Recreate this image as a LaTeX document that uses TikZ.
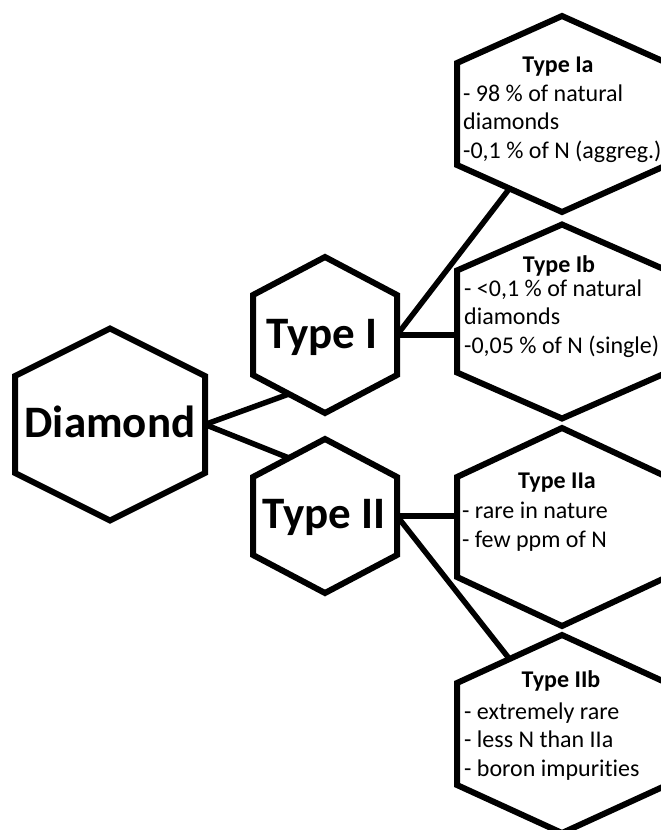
\documentclass[tikz,border=0pt]{standalone}
\usepackage{fontspec}
\setmainfont{Carlito}[Ligatures=NoCommon]
\usepackage{tikz}
\usetikzlibrary{positioning,backgrounds}

\tikzset{
  hexline/.style={line width=6pt, fill=white},
  link/.style={line width=5.5pt, shorten <=-3pt, shorten >=-3pt},
  bigtxt/.style={font=\fontsize{45}{54}\selectfont\bfseries, inner sep=0pt, anchor=base},
  headtxt/.style={font=\fontsize{24}{29}\selectfont\bfseries, inner sep=0pt, anchor=base},
  bodytxt/.style={font=\fontsize{24}{28.5}\selectfont, align=left, inner sep=0pt, anchor=base west},
  % hexagon: half width, corner offset, tip offset
  pics/hexa/.style n args={3}{code={
    \draw[hexline] (0,-#3) -- (#1,-#2) -- (#1,#2) -- (0,#3) -- (-#1,#2) -- (-#1,-#2) -- cycle;
    \coordinate (-e) at (#1,0);
    \coordinate (-w) at (-#1,0);
    \coordinate (-ul) at ({-#1/2},{-(#2+#3)/2});
    \coordinate (-ll) at ({-#1/2},{(#2+#3)/2});
  }}
}

\begin{document}
\begin{tikzpicture}[x=1pt, y=-1pt]
\useasboundingbox (0,0) rectangle (661,830);
\clip (0,0) rectangle (661,830);

% hexagons
\pic (dia) at (110,424.5) {hexa={95}{48.5}{96}};
\pic (t1) at (325,335) {hexa={72}{40}{78}};
\pic (t2) at (325,516) {hexa={72}{39}{77}};
\pic (ia) at (562,114) {hexa={105}{51}{98}};
\pic (ib) at (562,321.5) {hexa={105}{51}{97}};
\pic (iia) at (562,527) {hexa={105}{50}{99}};
\pic (iib) at (562,734) {hexa={105}{51}{99}};

% connectors, behind the hexagons
\begin{scope}[on background layer]
\draw[link] (dia-e) -- (t1-ll);
\draw[link] (dia-e) -- (t2-ul);
\draw[link] (t1-e) -- (ia-ll);
\draw[link] (t1-e) -- (t1-e -| ib-w);
\draw[link] (t2-e) -- (t2-e -| iia-w);
\draw[link] (t2-e) -- (iib-ul);
\end{scope}

% main labels
\node[bigtxt] (diaLbl) at (110,437) {Diamond};
\node[bigtxt] (t1Lbl) at (322,348) {Type I};
\node[bigtxt] (t2Lbl) at (324,528) {Type II};

% type Ia
\node[headtxt] (iaHead) at (558,72) {Type Ia};
\node[bodytxt] (iaBody) at (463,158) {- 98 \% of natural\\diamonds\\-0,1 \% of N (aggreg.)};

% type Ib
\node[headtxt] (ibHead) at (559,272) {Type Ib};
\node[bodytxt] (ibBody) at (464,353) {- <0,1 \% of natural\\diamonds\\-0,05 \% of N (single)};

% type IIa
\node[headtxt] (iiaHead) at (557,488) {Type IIa};
\node[bodytxt] (iiaBody) at (462,547) {- rare in nature\\- few ppm of N};

% type IIb
\node[headtxt] (iibHead) at (561,687) {Type IIb};
\node[bodytxt] (iibBody) at (464,776) {- extremely rare\\- less N than IIa\\- boron impurities};

\end{tikzpicture}
\end{document}
